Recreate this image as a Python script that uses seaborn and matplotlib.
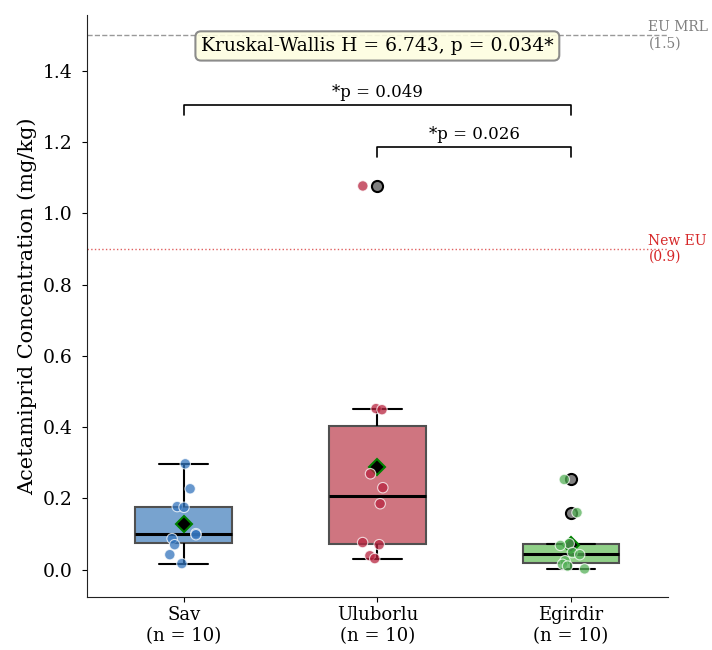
import numpy as np
import pandas as pd
import matplotlib
matplotlib.use("Agg")
import matplotlib.pyplot as plt
import seaborn as sns

# данные (мг/кг)
sites = ["Sav", "Uluborlu", "Egirdir"]
sav = [0.297, 0.227, 0.177, 0.175, 0.101, 0.098, 0.087, 0.070, 0.042, 0.017]
uluborlu = [1.077, 0.452, 0.449, 0.269, 0.230, 0.185, 0.076, 0.070, 0.039, 0.031]
egirdir = [0.253, 0.160, 0.073, 0.068, 0.048, 0.042, 0.025, 0.015, 0.010, 0.002]

box_colors = ["#78a3cf", "#cf7580", "#90d088"]
point_colors = ["#3475bd", "#b8243f", "#55b158"]

kw_text = "Kruskal-Wallis H = 6.743, p = 0.034*"
pairs = [("Sav", "Egirdir", "*p = 0.049", 1.305), ("Uluborlu", "Egirdir", "*p = 0.026", 1.187)]
eu_mrl = 1.5
new_eu = 0.9

df = pd.DataFrame({
    "site": np.repeat(sites, 10),
    "value": sav + uluborlu + egirdir,
})

sns.set_style("ticks")
plt.rcParams["font.family"] = ["DejaVu Serif"]
plt.rcParams.update({"text.color": "black", "axes.labelcolor": "black",
                     "xtick.color": "black", "ytick.color": "black",
                     "axes.edgecolor": "#222222"})

fig, ax = plt.subplots(figsize=(7.12, 6.5), dpi=100)
fig.subplots_adjust(left=0.122, right=0.938, bottom=0.082, top=0.977)

sns.boxplot(
    data=df, x="site", y="value", hue="site", order=sites, palette=box_colors,
    saturation=1, width=0.5, showmeans=True, legend=False, ax=ax,
    boxprops=dict(edgecolor="#505050", linewidth=1.5),
    whiskerprops=dict(color="black", linewidth=1.5),
    capprops=dict(color="black", linewidth=1.5),
    medianprops=dict(color="black", linewidth=2.2),
    meanprops=dict(marker="D", markerfacecolor="black", markeredgecolor="green",
                   markeredgewidth=1.5, markersize=8),
    flierprops=dict(marker="o", markerfacecolor="gray", markeredgecolor="black",
                    markeredgewidth=1.5, markersize=8),
)

np.random.seed(3)
sns.stripplot(
    data=df, x="site", y="value", hue="site", order=sites, palette=point_colors,
    jitter=0.08, size=7.5, alpha=0.75, edgecolor="white", linewidth=0.8,
    legend=False, ax=ax,
)

# пороги ЕС
ax.axhline(eu_mrl, color="#999999", linestyle="--", linewidth=1)
ax.axhline(new_eu, color="#e06060", linestyle=":", linewidth=1)
ax.text(2.4, eu_mrl, "EU MRL\n(1.5)", color="gray", fontsize=10, ha="left", va="center")
ax.text(2.4, new_eu, "New EU\n(0.9)", color="#d62728", fontsize=10, ha="left", va="center")

# скобки значимости
for a, b, label, y in pairs:
    x1, x2 = sites.index(a), sites.index(b)
    ax.plot([x1, x1, x2, x2], [y - 0.028, y, y, y - 0.028], color="black", linewidth=1.2)
    ax.text((x1 + x2) / 2, y + 0.01, label, ha="center", va="bottom", fontsize=12)

ax.text(1, 1.47, kw_text, ha="center", va="center", fontsize=13.5,
        bbox=dict(boxstyle="round,pad=0.3", facecolor="#fdfde0", edgecolor="gray",
                  linewidth=1.5, alpha=0.9))

ax.set_xlim(-0.5, 2.5)
ax.set_ylim(-0.076, 1.557)
ax.set_xticks(range(3))
ax.set_xticklabels([f"{s}\n(n = 10)" for s in sites], fontsize=13)
ax.tick_params(axis="y", labelsize=13.5, pad=7)
ax.set_xlabel("")
ax.set_ylabel("Acetamiprid Concentration (mg/kg)", fontsize=15)
sns.despine(ax=ax)

fig.savefig("out.png", dpi=100)
